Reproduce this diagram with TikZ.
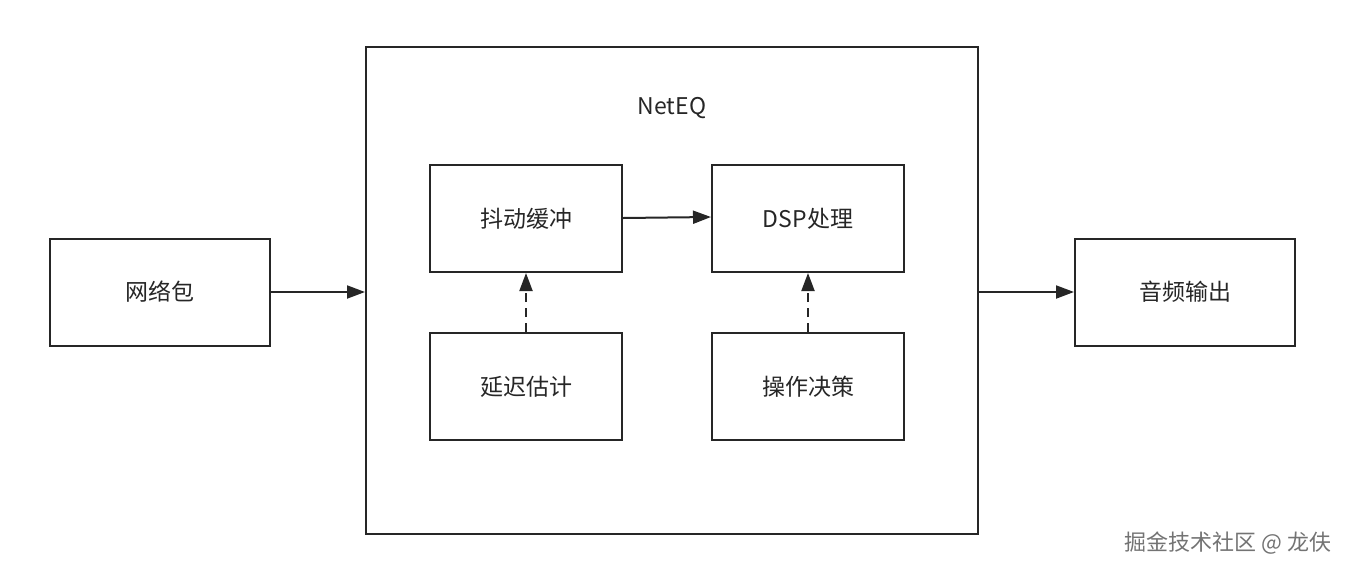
\documentclass[tikz,border=0pt]{standalone}
\usepackage{fontspec}
\setmainfont{Noto Sans CJK SC}
\usetikzlibrary{arrows.meta}
\begin{document}
\begin{tikzpicture}[x=1pt,y=-1pt,
  bx/.style={draw=black!85,line width=2pt,minimum width=#1,minimum height=107pt,inner sep=0pt,font=\fontsize{23}{26}\selectfont,text=black!85},
  bx/.default=192pt,
  arr/.style={line width=2pt,draw=black!85,-{Triangle[length=18pt,width=13pt]}},
  darr/.style={arr,dash pattern=on 9pt off 6pt}]
\useasboundingbox (0,0) rectangle (1350,574);
\node[draw=black!85,line width=2pt,minimum width=612pt,minimum height=487pt,inner sep=0pt] (neteq) at (672,290.5) {};
\node[font=\fontsize{23}{26}\selectfont,text=black!85] (lbl) at (672,108) {NetEQ};
\node[bx=220pt] (in) at (160,292) {网络包};
\node[bx=220pt] (out) at (1185,292) {音频输出};
\node[bx] (jb) at (526,218.5) {抖动缓冲};
\node[bx] (dsp) at (808,218.5) {DSP处理};
\node[bx] (de) at (526,386.5) {延迟估计};
\node[bx] (op) at (808,386.5) {操作决策};
\draw[arr] (in.east) -- (neteq.west |- in.east);
\draw[arr] (neteq.east |- out.west) -- (out.west);
\draw[arr] ([yshift=0.5pt]jb.east) -- ([yshift=1.5pt]dsp.west);
\draw[darr] (de.north) -- (jb.south);
\draw[darr] (op.north) -- (dsp.south);
\node[font=\fontsize{22}{26}\selectfont,text=black!55,anchor=east] (wm) at (1335,543) {掘金技术社区 @ 龙伕};
\end{tikzpicture}
\end{document}
